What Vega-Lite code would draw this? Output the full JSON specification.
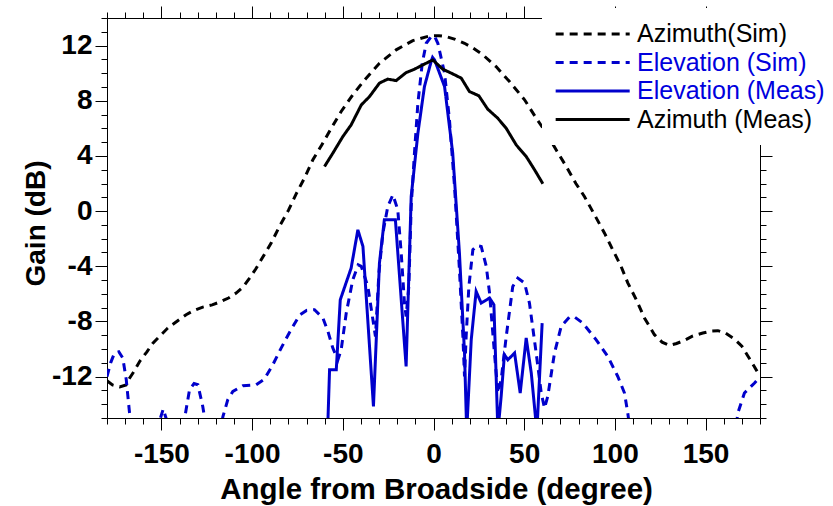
{
 "$schema": "https://vega.github.io/schema/vega-lite/v6.json",
 "width": 653,
 "height": 400,
 "autosize": {"type": "none"},
 "padding": {"left": 107, "top": 18, "right": 73, "bottom": 88},
 "background": "white",
 "config": {
  "view": {"stroke": null},
  "font": "Liberation Sans",
  "axis": {"domainColor": "black", "tickColor": "black", "labelColor": "black", "titleColor": "black", "grid": false, "domainWidth": 1, "tickWidth": 1, "labelFont": "Liberation Sans", "titleFont": "Liberation Sans"}
 },
 "datasets": {
  "curves": [
   {"series":"Azimuth(Sim)","angle":-180,"gain":-12.3},
   {"series":"Azimuth(Sim)","angle":-177,"gain":-12.6},
   {"series":"Azimuth(Sim)","angle":-173,"gain":-12.75},
   {"series":"Azimuth(Sim)","angle":-169.5,"gain":-12.6},
   {"series":"Azimuth(Sim)","angle":-168,"gain":-12.2},
   {"series":"Azimuth(Sim)","angle":-165,"gain":-11.6},
   {"series":"Azimuth(Sim)","angle":-162,"gain":-10.9},
   {"series":"Azimuth(Sim)","angle":-158,"gain":-10.2},
   {"series":"Azimuth(Sim)","angle":-154.7,"gain":-9.57},
   {"series":"Azimuth(Sim)","angle":-150,"gain":-8.95},
   {"series":"Azimuth(Sim)","angle":-146.5,"gain":-8.48},
   {"series":"Azimuth(Sim)","angle":-141,"gain":-7.95},
   {"series":"Azimuth(Sim)","angle":-136.4,"gain":-7.51},
   {"series":"Azimuth(Sim)","angle":-132,"gain":-7.2},
   {"series":"Azimuth(Sim)","angle":-127.2,"gain":-6.96},
   {"series":"Azimuth(Sim)","angle":-122,"gain":-6.8},
   {"series":"Azimuth(Sim)","angle":-118,"gain":-6.6},
   {"series":"Azimuth(Sim)","angle":-113,"gain":-6.3},
   {"series":"Azimuth(Sim)","angle":-108.8,"gain":-5.94},
   {"series":"Azimuth(Sim)","angle":-105,"gain":-5.5},
   {"series":"Azimuth(Sim)","angle":-101.4,"gain":-4.86},
   {"series":"Azimuth(Sim)","angle":-98,"gain":-4.2},
   {"series":"Azimuth(Sim)","angle":-95,"gain":-3.53},
   {"series":"Azimuth(Sim)","angle":-89.5,"gain":-2.32},
   {"series":"Azimuth(Sim)","angle":-84.9,"gain":-1.1},
   {"series":"Azimuth(Sim)","angle":-80,"gain":0.05},
   {"series":"Azimuth(Sim)","angle":-75.7,"gain":1.25},
   {"series":"Azimuth(Sim)","angle":-71.1,"gain":2.4},
   {"series":"Azimuth(Sim)","angle":-66.5,"gain":3.72},
   {"series":"Azimuth(Sim)","angle":-61.6,"gain":4.8},
   {"series":"Azimuth(Sim)","angle":-56.4,"gain":6.0},
   {"series":"Azimuth(Sim)","angle":-50.9,"gain":7.22},
   {"series":"Azimuth(Sim)","angle":-44.5,"gain":8.43},
   {"series":"Azimuth(Sim)","angle":-38,"gain":9.5},
   {"series":"Azimuth(Sim)","angle":-29.8,"gain":10.72},
   {"series":"Azimuth(Sim)","angle":-20.6,"gain":11.69},
   {"series":"Azimuth(Sim)","angle":-11.4,"gain":12.36},
   {"series":"Azimuth(Sim)","angle":-2.2,"gain":12.7},
   {"series":"Azimuth(Sim)","angle":3,"gain":12.72},
   {"series":"Azimuth(Sim)","angle":7,"gain":12.65},
   {"series":"Azimuth(Sim)","angle":12,"gain":12.45},
   {"series":"Azimuth(Sim)","angle":17.1,"gain":12.17},
   {"series":"Azimuth(Sim)","angle":22,"gain":11.8},
   {"series":"Azimuth(Sim)","angle":27.2,"gain":11.33},
   {"series":"Azimuth(Sim)","angle":34.5,"gain":10.48},
   {"series":"Azimuth(Sim)","angle":41.9,"gain":9.39},
   {"series":"Azimuth(Sim)","angle":50.2,"gain":8.07},
   {"series":"Azimuth(Sim)","angle":56.6,"gain":6.74},
   {"series":"Azimuth(Sim)","angle":62,"gain":5.7},
   {"series":"Azimuth(Sim)","angle":67.6,"gain":4.44},
   {"series":"Azimuth(Sim)","angle":73.2,"gain":3.23},
   {"series":"Azimuth(Sim)","angle":78.5,"gain":2.0},
   {"series":"Azimuth(Sim)","angle":83.2,"gain":1.06},
   {"series":"Azimuth(Sim)","angle":88.8,"gain":-0.27},
   {"series":"Azimuth(Sim)","angle":94.3,"gain":-1.6},
   {"series":"Azimuth(Sim)","angle":98.8,"gain":-2.8},
   {"series":"Azimuth(Sim)","angle":103.4,"gain":-4.0},
   {"series":"Azimuth(Sim)","angle":107.1,"gain":-5.2},
   {"series":"Azimuth(Sim)","angle":111.7,"gain":-6.4},
   {"series":"Azimuth(Sim)","angle":116.3,"gain":-7.75},
   {"series":"Azimuth(Sim)","angle":121.8,"gain":-8.96},
   {"series":"Azimuth(Sim)","angle":126,"gain":-9.5},
   {"series":"Azimuth(Sim)","angle":130.1,"gain":-9.74},
   {"series":"Azimuth(Sim)","angle":134,"gain":-9.6},
   {"series":"Azimuth(Sim)","angle":138.4,"gain":-9.37},
   {"series":"Azimuth(Sim)","angle":143,"gain":-9.05},
   {"series":"Azimuth(Sim)","angle":148.5,"gain":-8.84},
   {"series":"Azimuth(Sim)","angle":153,"gain":-8.7},
   {"series":"Azimuth(Sim)","angle":156.8,"gain":-8.67},
   {"series":"Azimuth(Sim)","angle":161,"gain":-8.85},
   {"series":"Azimuth(Sim)","angle":166,"gain":-9.28},
   {"series":"Azimuth(Sim)","angle":170,"gain":-9.8},
   {"series":"Azimuth(Sim)","angle":173.3,"gain":-10.5},
   {"series":"Azimuth(Sim)","angle":177,"gain":-11.3},
   {"series":"Azimuth(Sim)","angle":180,"gain":-12.0},

   {"series":"Elevation (Sim)","angle":-180,"gain":-12.0},
   {"series":"Elevation (Sim)","angle":-178,"gain":-11.0},
   {"series":"Elevation (Sim)","angle":-175.9,"gain":-10.3},
   {"series":"Elevation (Sim)","angle":-173.5,"gain":-10.2},
   {"series":"Elevation (Sim)","angle":-171.3,"gain":-10.65},
   {"series":"Elevation (Sim)","angle":-169.4,"gain":-12.2},
   {"series":"Elevation (Sim)","angle":-167.6,"gain":-14.6},
   {"series":"Elevation (Sim)","angle":-166,"gain":-16.5},
   {"series":"Elevation (Sim)","angle":-155,"gain":-17},
   {"series":"Elevation (Sim)","angle":-151,"gain":-15.2},
   {"series":"Elevation (Sim)","angle":-149,"gain":-14.35},
   {"series":"Elevation (Sim)","angle":-147,"gain":-15.2},
   {"series":"Elevation (Sim)","angle":-144,"gain":-17},
   {"series":"Elevation (Sim)","angle":-139,"gain":-16.5},
   {"series":"Elevation (Sim)","angle":-136.4,"gain":-14.4},
   {"series":"Elevation (Sim)","angle":-134.5,"gain":-12.95},
   {"series":"Elevation (Sim)","angle":-132,"gain":-12.5},
   {"series":"Elevation (Sim)","angle":-129.9,"gain":-12.59},
   {"series":"Elevation (Sim)","angle":-127.2,"gain":-14.16},
   {"series":"Elevation (Sim)","angle":-125,"gain":-16},
   {"series":"Elevation (Sim)","angle":-120,"gain":-17},
   {"series":"Elevation (Sim)","angle":-117,"gain":-15.5},
   {"series":"Elevation (Sim)","angle":-116.1,"gain":-14.9},
   {"series":"Elevation (Sim)","angle":-113.4,"gain":-13.67},
   {"series":"Elevation (Sim)","angle":-110.6,"gain":-13.07},
   {"series":"Elevation (Sim)","angle":-105.1,"gain":-12.66},
   {"series":"Elevation (Sim)","angle":-97.8,"gain":-12.59},
   {"series":"Elevation (Sim)","angle":-93.2,"gain":-12.18},
   {"series":"Elevation (Sim)","angle":-88.6,"gain":-11.14},
   {"series":"Elevation (Sim)","angle":-84,"gain":-9.93},
   {"series":"Elevation (Sim)","angle":-79.4,"gain":-8.8},
   {"series":"Elevation (Sim)","angle":-73.9,"gain":-7.55},
   {"series":"Elevation (Sim)","angle":-70,"gain":-7.2},
   {"series":"Elevation (Sim)","angle":-65.6,"gain":-7.15},
   {"series":"Elevation (Sim)","angle":-61,"gain":-7.75},
   {"series":"Elevation (Sim)","angle":-58.2,"gain":-8.72},
   {"series":"Elevation (Sim)","angle":-55.5,"gain":-9.93},
   {"series":"Elevation (Sim)","angle":-52.7,"gain":-10.78},
   {"series":"Elevation (Sim)","angle":-50.9,"gain":-10.05},
   {"series":"Elevation (Sim)","angle":-48.1,"gain":-7.39},
   {"series":"Elevation (Sim)","angle":-44.5,"gain":-4.98},
   {"series":"Elevation (Sim)","angle":-41.5,"gain":-3.9},
   {"series":"Elevation (Sim)","angle":-39.8,"gain":-4.01},
   {"series":"Elevation (Sim)","angle":-36.2,"gain":-5.46},
   {"series":"Elevation (Sim)","angle":-33.4,"gain":-7.88},
   {"series":"Elevation (Sim)","angle":-32,"gain":-9.09},
   {"series":"Elevation (Sim)","angle":-30.1,"gain":-4.49},
   {"series":"Elevation (Sim)","angle":-27.9,"gain":-1.59},
   {"series":"Elevation (Sim)","angle":-25.2,"gain":0.33},
   {"series":"Elevation (Sim)","angle":-22.4,"gain":1.18},
   {"series":"Elevation (Sim)","angle":-19.7,"gain":0.1},
   {"series":"Elevation (Sim)","angle":-17.8,"gain":-3.04},
   {"series":"Elevation (Sim)","angle":-16,"gain":-6.67},
   {"series":"Elevation (Sim)","angle":-15.1,"gain":-7.64},
   {"series":"Elevation (Sim)","angle":-13.6,"gain":-5.46},
   {"series":"Elevation (Sim)","angle":-12.3,"gain":0.33},
   {"series":"Elevation (Sim)","angle":-10.5,"gain":4.2},
   {"series":"Elevation (Sim)","angle":-8.6,"gain":7.83},
   {"series":"Elevation (Sim)","angle":-6.2,"gain":10.72},
   {"series":"Elevation (Sim)","angle":-4,"gain":12.17},
   {"series":"Elevation (Sim)","angle":-1.3,"gain":12.65},
   {"series":"Elevation (Sim)","angle":0.5,"gain":12.7},
   {"series":"Elevation (Sim)","angle":2.4,"gain":12.17},
   {"series":"Elevation (Sim)","angle":6.1,"gain":10.0},
   {"series":"Elevation (Sim)","angle":8.8,"gain":6.62},
   {"series":"Elevation (Sim)","angle":11.6,"gain":1.78},
   {"series":"Elevation (Sim)","angle":14.3,"gain":-4.25},
   {"series":"Elevation (Sim)","angle":16.2,"gain":-9.09},
   {"series":"Elevation (Sim)","angle":17.1,"gain":-11.99},
   {"series":"Elevation (Sim)","angle":18,"gain":-9.09},
   {"series":"Elevation (Sim)","angle":19.5,"gain":-5.46},
   {"series":"Elevation (Sim)","angle":21.7,"gain":-2.8},
   {"series":"Elevation (Sim)","angle":24,"gain":-2.5},
   {"series":"Elevation (Sim)","angle":26.3,"gain":-2.56},
   {"series":"Elevation (Sim)","angle":29.1,"gain":-4.01},
   {"series":"Elevation (Sim)","angle":30.9,"gain":-5.94},
   {"series":"Elevation (Sim)","angle":33.6,"gain":-10.29},
   {"series":"Elevation (Sim)","angle":35.5,"gain":-13.19},
   {"series":"Elevation (Sim)","angle":37.3,"gain":-12.22},
   {"series":"Elevation (Sim)","angle":40.1,"gain":-9.09},
   {"series":"Elevation (Sim)","angle":43.7,"gain":-5.46},
   {"series":"Elevation (Sim)","angle":46.5,"gain":-4.86},
   {"series":"Elevation (Sim)","angle":50.2,"gain":-5.22},
   {"series":"Elevation (Sim)","angle":52.9,"gain":-6.67},
   {"series":"Elevation (Sim)","angle":56.6,"gain":-10.29},
   {"series":"Elevation (Sim)","angle":59.4,"gain":-13.19},
   {"series":"Elevation (Sim)","angle":61.2,"gain":-14.28},
   {"series":"Elevation (Sim)","angle":63,"gain":-13.43},
   {"series":"Elevation (Sim)","angle":66.7,"gain":-10.29},
   {"series":"Elevation (Sim)","angle":70.4,"gain":-8.36},
   {"series":"Elevation (Sim)","angle":75,"gain":-7.68},
   {"series":"Elevation (Sim)","angle":78,"gain":-7.7},
   {"series":"Elevation (Sim)","angle":82.3,"gain":-8.12},
   {"series":"Elevation (Sim)","angle":89.7,"gain":-9.33},
   {"series":"Elevation (Sim)","angle":96.1,"gain":-10.54},
   {"series":"Elevation (Sim)","angle":101.6,"gain":-11.99},
   {"series":"Elevation (Sim)","angle":105.3,"gain":-13.19},
   {"series":"Elevation (Sim)","angle":107.1,"gain":-14.64},
   {"series":"Elevation (Sim)","angle":109,"gain":-16.5},
   {"series":"Elevation (Sim)","angle":115,"gain":-18},
   {"series":"Elevation (Sim)","angle":160,"gain":-18},
   {"series":"Elevation (Sim)","angle":166,"gain":-16.5},
   {"series":"Elevation (Sim)","angle":167.8,"gain":-14.64},
   {"series":"Elevation (Sim)","angle":171.4,"gain":-13.19},
   {"series":"Elevation (Sim)","angle":177,"gain":-12.46},
   {"series":"Elevation (Sim)","angle":180,"gain":-12.0},

   {"series":"Elevation (Meas)","angle":-58.4,"gain":-16},
   {"series":"Elevation (Meas)","angle":-57.3,"gain":-11.5},
   {"series":"Elevation (Meas)","angle":-53.6,"gain":-11.5},
   {"series":"Elevation (Meas)","angle":-51.4,"gain":-6.43},
   {"series":"Elevation (Meas)","angle":-45.4,"gain":-4.13},
   {"series":"Elevation (Meas)","angle":-41.7,"gain":-1.36},
   {"series":"Elevation (Meas)","angle":-38.9,"gain":-2.56},
   {"series":"Elevation (Meas)","angle":-33.1,"gain":-14.16},
   {"series":"Elevation (Meas)","angle":-29.8,"gain":-3.77},
   {"series":"Elevation (Meas)","angle":-27.1,"gain":-0.63},
   {"series":"Elevation (Meas)","angle":-21,"gain":-0.63},
   {"series":"Elevation (Meas)","angle":-15.1,"gain":-11.26},
   {"series":"Elevation (Meas)","angle":-12.3,"gain":1.06},
   {"series":"Elevation (Meas)","angle":-8.6,"gain":5.65},
   {"series":"Elevation (Meas)","angle":-5,"gain":9.03},
   {"series":"Elevation (Meas)","angle":-1.3,"gain":10.84},
   {"series":"Elevation (Meas)","angle":-0.5,"gain":11.15},
   {"series":"Elevation (Meas)","angle":0.6,"gain":10.96},
   {"series":"Elevation (Meas)","angle":6.1,"gain":9.03},
   {"series":"Elevation (Meas)","angle":10.6,"gain":4.2},
   {"series":"Elevation (Meas)","angle":14.3,"gain":-3.04},
   {"series":"Elevation (Meas)","angle":17.1,"gain":-10.29},
   {"series":"Elevation (Meas)","angle":18.3,"gain":-16},
   {"series":"Elevation (Meas)","angle":20.8,"gain":-9.33},
   {"series":"Elevation (Meas)","angle":23.5,"gain":-5.82},
   {"series":"Elevation (Meas)","angle":26.3,"gain":-6.67},
   {"series":"Elevation (Meas)","angle":30.9,"gain":-6.3},
   {"series":"Elevation (Meas)","angle":33.3,"gain":-6.79},
   {"series":"Elevation (Meas)","angle":35.5,"gain":-16},
   {"series":"Elevation (Meas)","angle":37.3,"gain":-13.43},
   {"series":"Elevation (Meas)","angle":39.1,"gain":-10.41},
   {"series":"Elevation (Meas)","angle":41,"gain":-10.78},
   {"series":"Elevation (Meas)","angle":44.7,"gain":-10.29},
   {"series":"Elevation (Meas)","angle":47.8,"gain":-13.19},
   {"series":"Elevation (Meas)","angle":51.1,"gain":-9.2},
   {"series":"Elevation (Meas)","angle":53.9,"gain":-11.74},
   {"series":"Elevation (Meas)","angle":57,"gain":-16},
   {"series":"Elevation (Meas)","angle":59.9,"gain":-8.12},

   {"series":"Azimuth (Meas)","angle":-60.1,"gain":3.23},
   {"series":"Azimuth (Meas)","angle":-55.5,"gain":4.2},
   {"series":"Azimuth (Meas)","angle":-50,"gain":5.4},
   {"series":"Azimuth (Meas)","angle":-45.4,"gain":6.25},
   {"series":"Azimuth (Meas)","angle":-39.8,"gain":7.7},
   {"series":"Azimuth (Meas)","angle":-35.3,"gain":8.3},
   {"series":"Azimuth (Meas)","angle":-29.8,"gain":9.28},
   {"series":"Azimuth (Meas)","angle":-25.2,"gain":9.57},
   {"series":"Azimuth (Meas)","angle":-20.6,"gain":9.46},
   {"series":"Azimuth (Meas)","angle":-15.1,"gain":10.04},
   {"series":"Azimuth (Meas)","angle":-10.5,"gain":10.29},
   {"series":"Azimuth (Meas)","angle":-5.9,"gain":10.6},
   {"series":"Azimuth (Meas)","angle":-0.4,"gain":10.96},
   {"series":"Azimuth (Meas)","angle":5.1,"gain":10.29},
   {"series":"Azimuth (Meas)","angle":9.8,"gain":10.0},
   {"series":"Azimuth (Meas)","angle":15.3,"gain":9.64},
   {"series":"Azimuth (Meas)","angle":19.8,"gain":8.67},
   {"series":"Azimuth (Meas)","angle":25,"gain":8.36},
   {"series":"Azimuth (Meas)","angle":29.9,"gain":7.39},
   {"series":"Azimuth (Meas)","angle":35.4,"gain":6.74},
   {"series":"Azimuth (Meas)","angle":40.1,"gain":6.0},
   {"series":"Azimuth (Meas)","angle":45.6,"gain":4.8},
   {"series":"Azimuth (Meas)","angle":51.1,"gain":3.96},
   {"series":"Azimuth (Meas)","angle":55.7,"gain":3.0},
   {"series":"Azimuth (Meas)","angle":60.3,"gain":1.98}
  ]
 },
 "data": {"name": "curves"},
 "layer": [
  {
   "mark": {"type": "line", "strokeWidth": 3, "clip": true},
   "encoding": {
    "x": {"field": "angle", "type": "quantitative",
     "scale": {"domain": [-180, 180], "nice": false, "zero": false},
     "axis": {"orient": "bottom", "values": [-150, -100, -50, 0, 50, 100, 150], "tickSize": 12, "labelFontSize": 28, "labelFontWeight": "bold", "labelPadding": 10, "labelFlush": false,
      "labelExpr": "datum.value < 0 ? '-' + abs(datum.value) : '' + datum.value",
      "title": "Angle from Broadside (degree)", "titleFontSize": 29.5, "titleFontWeight": "bold", "titleX": 329, "titleY": 80, "titleAlign": "center", "titleBaseline": "alphabetic"}},
    "y": {"field": "gain", "type": "quantitative",
     "scale": {"domain": [-15, 14], "nice": false, "zero": false},
     "axis": {"orient": "left", "values": [-12, -8, -4, 0, 4, 8, 12], "tickSize": 12, "labelFontSize": 28, "labelFontWeight": "bold", "labelPadding": 3,
      "labelExpr": "datum.value < 0 ? '-' + abs(datum.value) : '' + datum.value",
      "title": "Gain (dB)", "titleFontSize": 28, "titleFontWeight": "bold", "titleAngle": -90, "titleX": -63, "titleY": 205, "titleAlign": "center", "titleBaseline": "alphabetic"}},
    "color": {"field": "series", "type": "nominal",
     "scale": {"domain": ["Azimuth(Sim)", "Elevation (Sim)", "Elevation (Meas)", "Azimuth (Meas)"], "range": ["#000000", "#0000cc", "#0000cc", "#000000"]},
     "legend": {"title": null, "orient": "none", "legendX": 435, "legendY": -10, "fillColor": "white", "padding": 12, "symbolType": "M-1,0L5,0", "symbolSize": 609, "symbolStrokeWidth": 3, "labelFont": "Liberation Sans", "labelFontSize": 25, "labelLimit": 400, "labelOffset": 55, "rowPadding": 1.5, "zindex": 1,
      "encode": {"labels": {"update": {"fill": {"signal": "indexof(datum.label, 'Elevation') >= 0 ? '#0000dd' : '#000000'"}}}}}},
    "strokeDash": {"field": "series", "type": "nominal",
     "scale": {"domain": ["Azimuth(Sim)", "Elevation (Sim)", "Elevation (Meas)", "Azimuth (Meas)"], "range": [[8, 6], [8, 6], [1, 0], [1, 0]]},
     "legend": {"title": null, "orient": "none", "legendX": 435, "legendY": -10, "fillColor": "white", "padding": 12, "symbolType": "M-1,0L5,0", "symbolSize": 609, "symbolStrokeWidth": 3, "labelFont": "Liberation Sans", "labelFontSize": 25, "labelLimit": 400, "labelOffset": 55, "rowPadding": 1.5, "zindex": 1}}
   }
  },
  {
   "mark": {"type": "point", "opacity": 0},
   "encoding": {
    "x": {"field": "angle", "type": "quantitative", "scale": {"domain": [-180, 180], "nice": false, "zero": false},
     "axis": {"orient": "bottom", "values": [-180,-170,-160,-150,-140,-130,-120,-110,-100,-90,-80,-70,-60,-50,-40,-30,-20,-10,0,10,20,30,40,50,60,70,80,90,100,110,120,130,140,150,160,170,180], "tickSize": 6, "labels": false, "domain": false, "title": null}},
    "y": {"field": "gain", "type": "quantitative", "scale": {"domain": [-15, 14], "nice": false, "zero": false},
     "axis": {"orient": "left", "values": [-15,-14,-13,-12,-11,-10,-9,-8,-7,-6,-5,-4,-3,-2,-1,0,1,2,3,4,5,6,7,8,9,10,11,12,13,14], "tickSize": 6, "labels": false, "domain": false, "title": null}}
   }
  },
  {
   "mark": {"type": "point", "opacity": 0},
   "encoding": {
    "x": {"field": "angle", "type": "quantitative", "scale": {"domain": [-180, 180], "nice": false, "zero": false},
     "axis": {"orient": "top", "values": [-150, -100, -50, 0, 50, 100, 150], "tickSize": 12, "labels": false, "domain": true, "title": null}},
    "y": {"field": "gain", "type": "quantitative", "scale": {"domain": [-15, 14], "nice": false, "zero": false},
     "axis": {"orient": "right", "values": [-12, -8, -4, 0, 4, 8, 12], "tickSize": 12, "labels": false, "domain": true, "title": null}}
   }
  },
  {
   "mark": {"type": "point", "opacity": 0},
   "encoding": {
    "x": {"field": "angle", "type": "quantitative", "scale": {"domain": [-180, 180], "nice": false, "zero": false},
     "axis": {"orient": "top", "values": [-180,-170,-160,-150,-140,-130,-120,-110,-100,-90,-80,-70,-60,-50,-40,-30,-20,-10,0,10,20,30,40,50,60,70,80,90,100,110,120,130,140,150,160,170,180], "tickSize": 6, "labels": false, "domain": false, "title": null}},
    "y": {"field": "gain", "type": "quantitative", "scale": {"domain": [-15, 14], "nice": false, "zero": false},
     "axis": {"orient": "right", "values": [-15,-14,-13,-12,-11,-10,-9,-8,-7,-6,-5,-4,-3,-2,-1,0,1,2,3,4,5,6,7,8,9,10,11,12,13,14], "tickSize": 6, "labels": false, "domain": false, "title": null}}
   }
  }
 ],
 "resolve": {"axis": {"x": "independent", "y": "independent"}}
}
